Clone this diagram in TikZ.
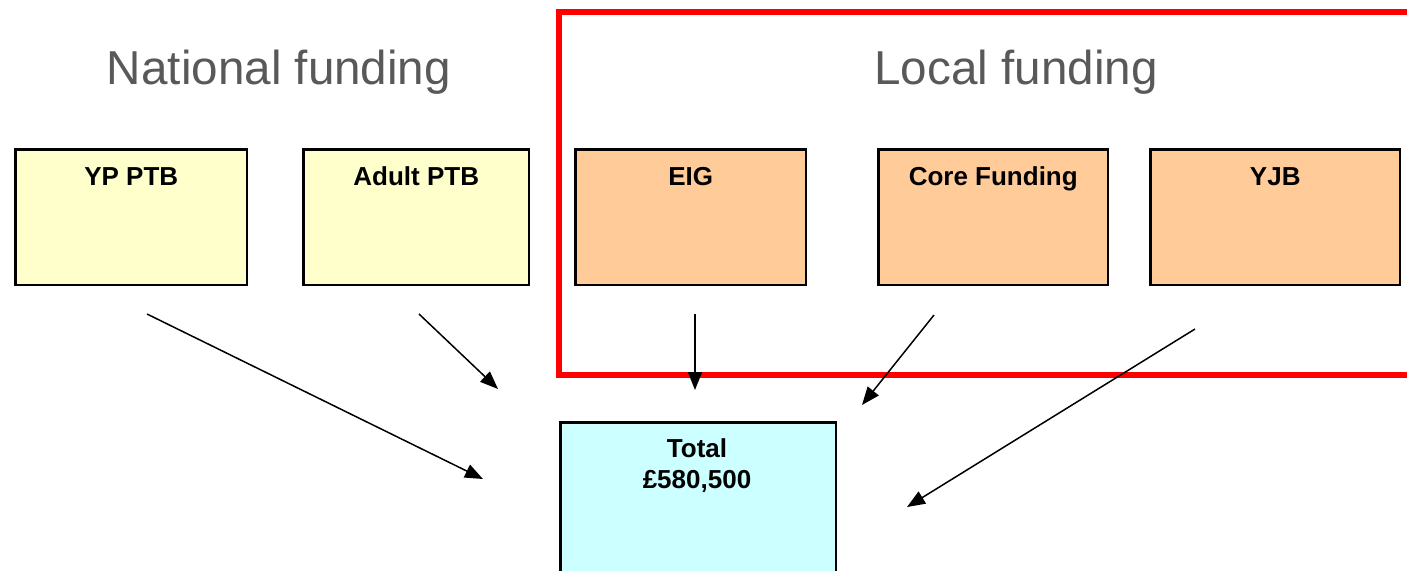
\documentclass[tikz,border=0pt]{standalone}
\usepackage{fontspec}
\setmainfont{Liberation Sans}
\usetikzlibrary{arrows.meta}
\definecolor{ylw}{HTML}{FFFFCC}
\definecolor{org}{HTML}{FFCC99}
\definecolor{cyn}{HTML}{CCFFFF}
\definecolor{ttl}{HTML}{595959}
\begin{document}
\begin{tikzpicture}[x=1pt,y=-1pt,
  fundbox/.style={draw=black, line width=2.5pt, rectangle, inner sep=0pt, anchor=north west},
  lbl/.style={font=\fontsize{26}{31}\selectfont\bfseries, text=black, inner sep=0pt, anchor=base},
  ttlstyle/.style={font=\fontsize{47.6}{57}\selectfont, text=ttl, inner sep=0pt},
  arr/.style={draw=black, line width=1.5pt, -{Triangle[length=18pt,width=14pt]}}]
\clip (0,0) rectangle (1407,570);
\fill[white] (0,0) rectangle (1407,570);
% red frame
\draw[red, line width=6pt] (559,12) rectangle (1430,375);
% titles
\node[ttlstyle] (nat) at (279,72) {National funding};
\node[ttlstyle] (loc) at (1016,72) {Local funding};
% boxes
\node[fundbox, fill=ylw, minimum width=231.5pt, minimum height=135.5pt] (yp) at (14.25,148.25) {};
\node[fundbox, fill=ylw, minimum width=225.5pt, minimum height=135.5pt] (ad) at (302.25,148.25) {};
\node[fundbox, fill=org, minimum width=230.5pt, minimum height=135.5pt] (eig) at (574.25,148.25) {};
\node[fundbox, fill=org, minimum width=229.5pt, minimum height=135.5pt] (core) at (877.25,148.25) {};
\node[fundbox, fill=org, minimum width=249.5pt, minimum height=135.5pt] (yjb) at (1149.25,148.25) {};
\node[fundbox, fill=cyn, minimum width=275.5pt, minimum height=200pt] (tot) at (559.25,421.25) {};
% labels
\node[lbl] (ypl) at ([yshift=-37pt]yp.north) {YP PTB};
\node[lbl] (adl) at ([yshift=-37pt]ad.north) {Adult PTB};
\node[lbl] (eigl) at ([yshift=-37pt]eig.north) {EIG};
\node[lbl] (corel) at ([yshift=-37pt]core.north) {Core Funding};
\node[lbl] (yjbl) at ([yshift=-37pt]yjb.north) {YJB};
\node[lbl] (totl1) at (697,457) {Total};
\node[lbl] (totl2) at (697,488) {£580,500};
% arrow endpoints
\coordinate (a1s) at (147,314); \coordinate (a1e) at (483,479);
\coordinate (a2s) at (419,314); \coordinate (a2e) at (498,389);
\coordinate (a3s) at (695,314); \coordinate (a3e) at (695,390);
\coordinate (a4s) at (934,315); \coordinate (a4e) at (862,405);
\coordinate (a5s) at (1195,329); \coordinate (a5e) at (907,507);
\draw[arr] (a1s) -- (a1e);
\draw[arr] (a2s) -- (a2e);
\draw[arr] (a3s) -- (a3e);
\draw[arr] (a4s) -- (a4e);
\draw[arr] (a5s) -- (a5e);
\end{tikzpicture}
\end{document}
